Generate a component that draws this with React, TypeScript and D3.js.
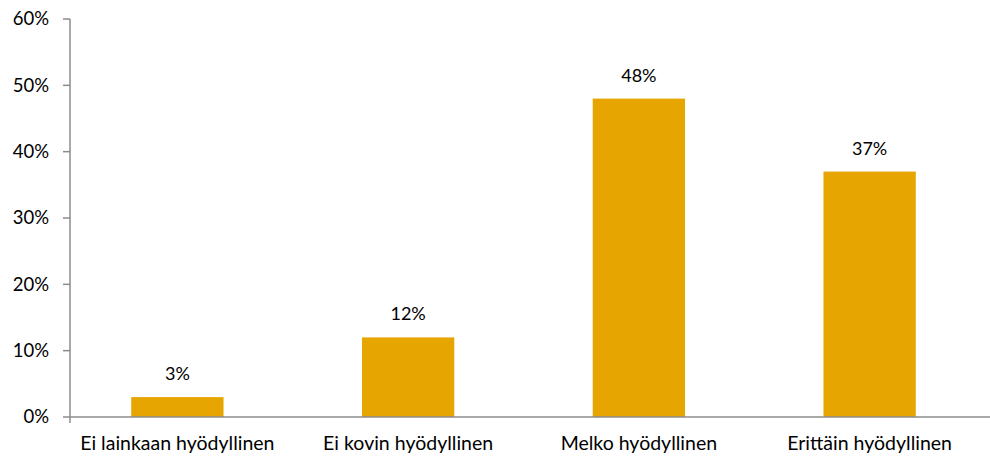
import React from "react";
import * as d3 from "d3";

const width = 990;
const height = 456;
const margin = { top: 19, right: 0, bottom: 39, left: 70 };

const categories = [
  "Ei lainkaan hyödyllinen",
  "Ei kovin hyödyllinen",
  "Melko hyödyllinen",
  "Erittäin hyödyllinen",
];
const values = [3, 12, 48, 37];
const yTicks = [0, 10, 20, 30, 40, 50, 60];

const barColor = "#E6A500";
const axisColor = "#8c8c8c";
const font = "Lato, 'Open Sans', sans-serif";

export default function App() {
  const y = d3
    .scaleLinear()
    .domain([0, 60])
    .range([height - margin.bottom, margin.top]);

  // bars sit slightly left of the axis-based bands in the original
  const x = d3.scaleBand<string>().domain(categories).range([62, 985]).padding(0);
  const barW = x.bandwidth() * 0.4;
  const y0 = y(0);

  return (
    <svg
      width={width}
      height={height}
      style={{ position: "absolute", left: 0, top: 0, fontFamily: font }}
    >
      {/* bars */}
      {categories.map((c, i) => {
        const cx = (x(c) as number) + x.bandwidth() / 2;
        return (
          <g key={c}>
            <rect
              x={cx - barW / 2}
              y={y(values[i])}
              width={barW}
              height={y0 - y(values[i])}
              fill={barColor}
            />
            <text
              x={cx}
              y={y(values[i]) - 17}
              textAnchor="middle"
              fontSize={18}
              fill="#000"
            >
              {values[i]}%
            </text>
            <text x={cx} y={height - 6} textAnchor="middle" fontSize={19.5} fill="#000">
              {c}
            </text>
          </g>
        );
      })}

      {/* y axis */}
      <line x1={margin.left} x2={margin.left} y1={y(60)} y2={y0 + 6} stroke={axisColor} strokeWidth={1.5} />
      {yTicks.map((t) => (
        <g key={t}>
          <line x1={margin.left - 7} x2={margin.left} y1={y(t)} y2={y(t)} stroke={axisColor} strokeWidth={1.5} />
          <text
            x={margin.left - 21}
            y={y(t)}
            dy="0.35em"
            textAnchor="end"
            fontSize={18.5}
            fill="#000"
          >
            {t}%
          </text>
        </g>
      ))}

      {/* x axis */}
      <line x1={margin.left} x2={width} y1={y0} y2={y0} stroke={axisColor} strokeWidth={1.5} />
    </svg>
  );
}
